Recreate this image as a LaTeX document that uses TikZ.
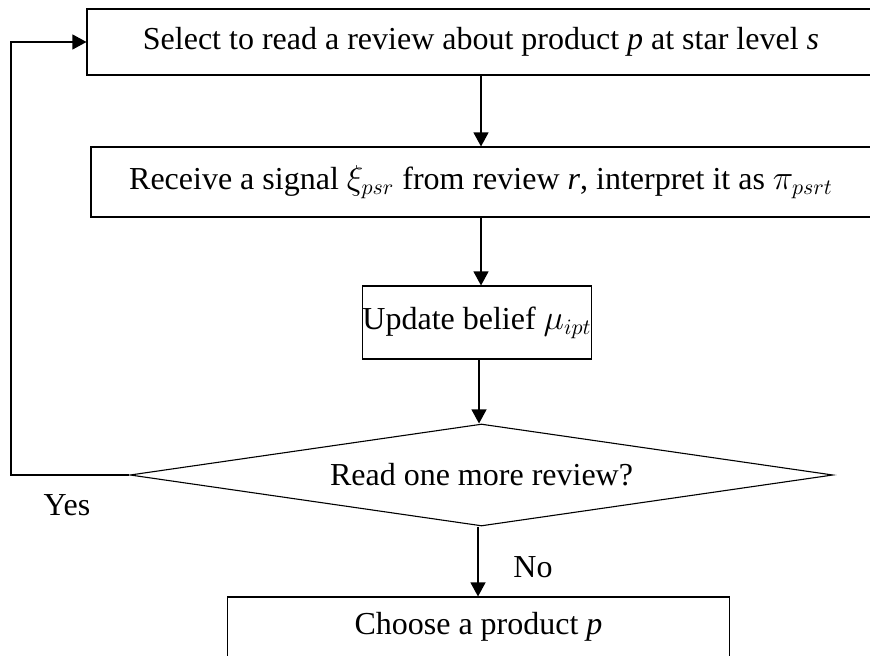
\documentclass[tikz,border=0pt]{standalone}
\usepackage{fontspec}
\setmainfont{Liberation Serif}
\usetikzlibrary{shapes.geometric,arrows.meta}
\begin{document}
\begin{tikzpicture}[x=0.5pt,y=-0.5pt,
  every node/.style={font=\fontsize{16}{19}\selectfont},
  stepbox/.style={draw,line width=0.55pt,inner sep=0pt},
  decision/.style={draw,diamond,line width=0.55pt,inner sep=0pt,aspect=6.9,
    minimum width=351.5pt,minimum height=51pt},
  flow/.style={line width=0.6pt,-{Triangle[length=7pt,width=7.5pt]}},
  lbl/.style={inner sep=0pt}]
\useasboundingbox (0,0) rectangle (870,656);
% process steps, top to bottom
\node[stepbox,minimum width=394pt,minimum height=33pt] (sel) at (481,42)
  {Select to read a review about product \textit{p} at star level \textit{s}};
\node[stepbox,minimum width=390pt,minimum height=35pt] (rec) at (481,182)
  {Receive a signal $\xi_{psr}$ from review \textit{r}, interpret it as $\pi_{psrt}$};
\node[stepbox,minimum width=103.5pt,minimum height=36.5pt] (upd) at (477,322.5)
  {Update belief $\mu_{ipt}$};
\node[decision] (dec) at (481.5,475) {Read one more review?};
\node[stepbox,minimum width=251pt,minimum height=30pt] (cho) at (478.5,627)
  {Choose a product \textit{p}};
% loop back corners
\coordinate (lb) at (dec.west -| 11,0);
\coordinate (lt) at (sel.west -| 11,0);
% connectors
\draw[flow] (sel.south -| 481,0) -- (rec.north -| 481,0);
\draw[flow] (rec.south -| 481,0) -- (upd.north -| 481,0);
\draw[flow] (upd.south -| 479,0) -- (dec.north -| 479,0);
\draw[flow] (dec.south -| 478,0) -- (cho.north -| 478,0);
\draw[flow] (dec.west) -- (lb) -- (lt) -- (sel.west);
% branch labels
\node[lbl] (yes) at (67,505) {Yes};
\node[lbl] (no) at (533,567) {No};
\end{tikzpicture}
\end{document}
